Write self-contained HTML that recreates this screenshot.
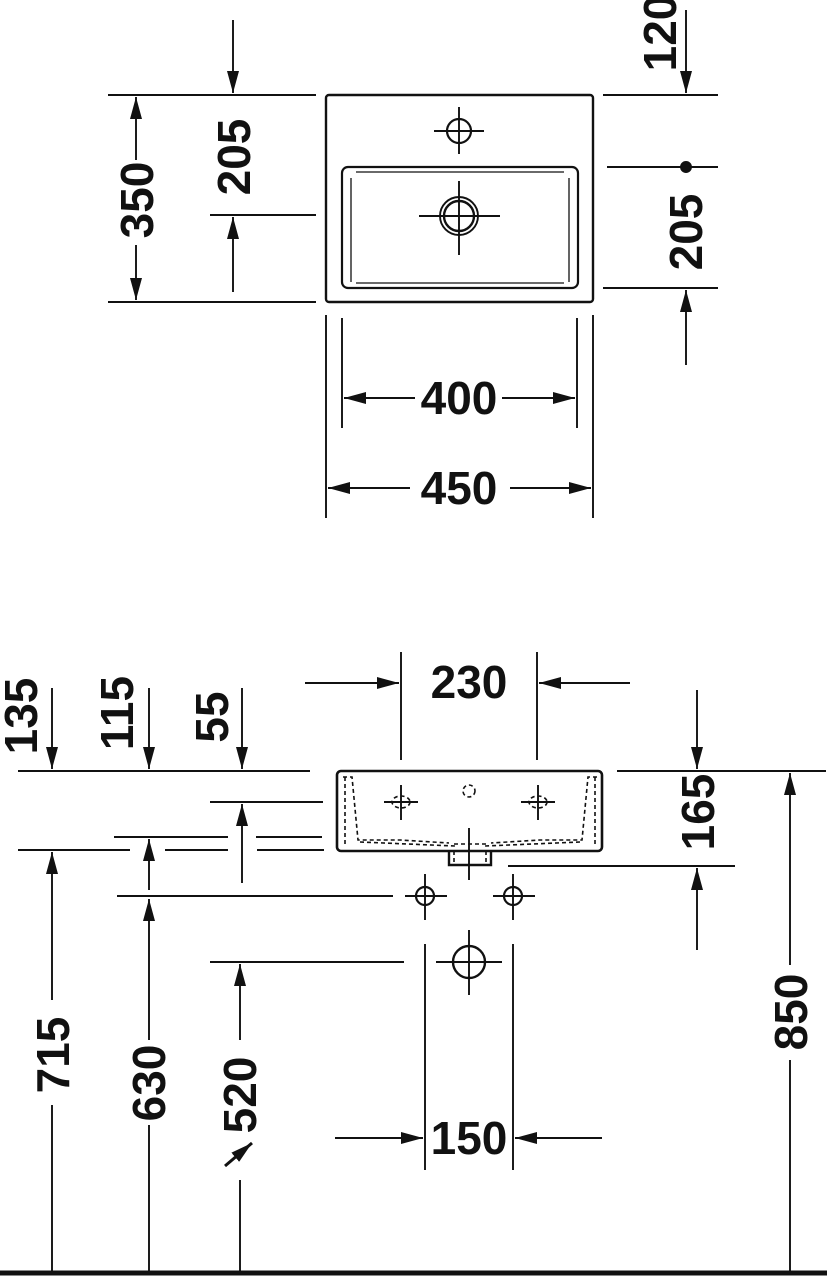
<!DOCTYPE html>
<html><head><meta charset="utf-8"><style>
html,body{margin:0;padding:0;background:#fff}
svg{display:block}
text{font-family:"Liberation Sans",sans-serif;font-weight:bold;font-size:46px;fill:#111}
</style></head><body>
<svg width="827" height="1280" viewBox="0 0 827 1280" xmlns="http://www.w3.org/2000/svg">
<defs>
<marker id="a" markerUnits="userSpaceOnUse" markerWidth="22" markerHeight="12" refX="22" refY="6" orient="auto">
<path d="M0,0 L22,6 L0,12 Z" fill="#111"/></marker>
</defs>
<g stroke="#111" stroke-width="1.9" fill="none">
<!-- TOP VIEW -->
<rect x="326" y="95" width="267" height="207" rx="3" stroke-width="2.4"/>
<rect x="342" y="167" width="236" height="121" rx="6" stroke-width="2.2"/>
<path d="M356,172 H564 M351,178 V282 M569,178 V282 M356,283 H564" stroke-width="1.3"/>
<circle cx="459" cy="131" r="12" stroke-width="2.2"/>
<path d="M434,131 H484 M459,107 V154"/>
<circle cx="459" cy="216" r="19"/>
<circle cx="459" cy="216" r="15" stroke-width="2.4"/>
<path d="M419,216 H500 M459,181 V255"/>
<path d="M108,95 H316 M108,302 H316 M210,215 H316"/>
<path d="M136,160 V97" marker-end="url(#a)"/>
<path d="M136,245 V300" marker-end="url(#a)"/>
<path d="M233,20 V93" marker-end="url(#a)"/>
<path d="M233,292 V217" marker-end="url(#a)"/>
<path d="M603,95 H718 M607,167 H718 M603,288 H718"/>
<path d="M686,10 V93" marker-end="url(#a)"/>
<path d="M686,365 V290" marker-end="url(#a)"/>
<circle cx="686" cy="167" r="5" fill="#111"/>
<path d="M326,315 V518 M593,315 V518 M342,318 V428 M577,318 V428"/>
<path d="M415,398 H344" marker-end="url(#a)"/>
<path d="M502,398 H575" marker-end="url(#a)"/>
<path d="M410,488 H328" marker-end="url(#a)"/>
<path d="M510,488 H591" marker-end="url(#a)"/>

<!-- BOTTOM VIEW -->
<path d="M0,1273 H827" stroke-width="5"/>
<path d="M18,771 H310 M617,771 H826"/>
<rect x="337" y="771" width="265" height="80" rx="4" stroke-width="2.6"/>
<path d="M449,851 V865 H491 V851" stroke-width="2.4"/>
<g stroke-dasharray="4,3" stroke-width="1.6">
<path d="M343,777 H352 L358,840 H400 L449,843 M597,777 H588 L582,840 H540 L491,843"/>
<path d="M345,777 V845 M595,777 V845"/>
<path d="M360,842 L455,846 M580,842 L485,846"/>
<path d="M454,851 V864 M486,851 V864 M454,844 H486"/>
<ellipse cx="401" cy="802" rx="9" ry="6"/>
<ellipse cx="538" cy="802" rx="9" ry="6"/>
<circle cx="469" cy="791" r="6"/>
</g>
<path d="M384,802 H418 M401,785 V820 M521,802 H555 M538,785 V820"/>
<path d="M469,828 V880"/>
<circle cx="425" cy="896" r="9" stroke-width="2.2"/>
<circle cx="513" cy="896" r="9" stroke-width="2.2"/>
<path d="M405,896 H447 M425,874 V920 M493,896 H535 M513,874 V920"/>
<path d="M117,896 H393 M508,866 H735"/>
<circle cx="469" cy="962" r="16" stroke-width="2.4"/>
<path d="M436,962 H502 M469,930 V995 M210,962 H404"/>
<path d="M425,944 V1170 M513,944 V1170"/>
<path d="M335,1138 H423" marker-end="url(#a)"/>
<path d="M602,1138 H515" marker-end="url(#a)"/>
<path d="M401,652 V760 M537,652 V760"/>
<path d="M305,683 H399" marker-end="url(#a)"/>
<path d="M630,683 H539" marker-end="url(#a)"/>
<path d="M210,802 H323 M114,837 H228 M256,837 H322 M18,850 H130 M165,850 H228 M257,850 H324"/>
<path d="M52,688 V769" marker-end="url(#a)"/>
<path d="M149,688 V769" marker-end="url(#a)"/>
<path d="M242,688 V769" marker-end="url(#a)"/>
<path d="M242,883 V804" marker-end="url(#a)"/>
<path d="M149,890 V839" marker-end="url(#a)"/>
<path d="M149,1040 V899" marker-end="url(#a)"/>
<path d="M149,1125 V1271"/>
<path d="M52,1000 V852" marker-end="url(#a)"/>
<path d="M52,1105 V1271"/>
<path d="M240,1040 V964" marker-end="url(#a)"/>
<path d="M240,1180 V1271"/>
<path d="M697,690 V769" marker-end="url(#a)"/>
<path d="M697,950 V868" marker-end="url(#a)"/>
<path d="M790,965 V773" marker-end="url(#a)"/>
<path d="M790,1060 V1271"/>
<path d="M225,1166 L252,1143" stroke-width="3" marker-end="url(#a)"/>
</g>
<g text-anchor="middle">
<text transform="translate(153,200) rotate(-90)">350</text>
<text transform="translate(250,157) rotate(-90)">205</text>
<text transform="translate(676,33) rotate(-90)">120</text>
<text transform="translate(702,232) rotate(-90)">205</text>
<text x="459" y="414">400</text>
<text x="459" y="504">450</text>
<text x="469" y="698">230</text>
<text x="469" y="1154">150</text>
<text transform="translate(37,716) rotate(-90)">135</text>
<text transform="translate(133,713) rotate(-90)">115</text>
<text transform="translate(228,717) rotate(-90)">55</text>
<text transform="translate(69,1055) rotate(-90)">715</text>
<text transform="translate(165,1083) rotate(-90)">630</text>
<text transform="translate(256,1095) rotate(-90)">520</text>
<text transform="translate(714,812) rotate(-90)">165</text>
<text transform="translate(807,1012) rotate(-90)">850</text>
</g>
</svg>
</body></html>
